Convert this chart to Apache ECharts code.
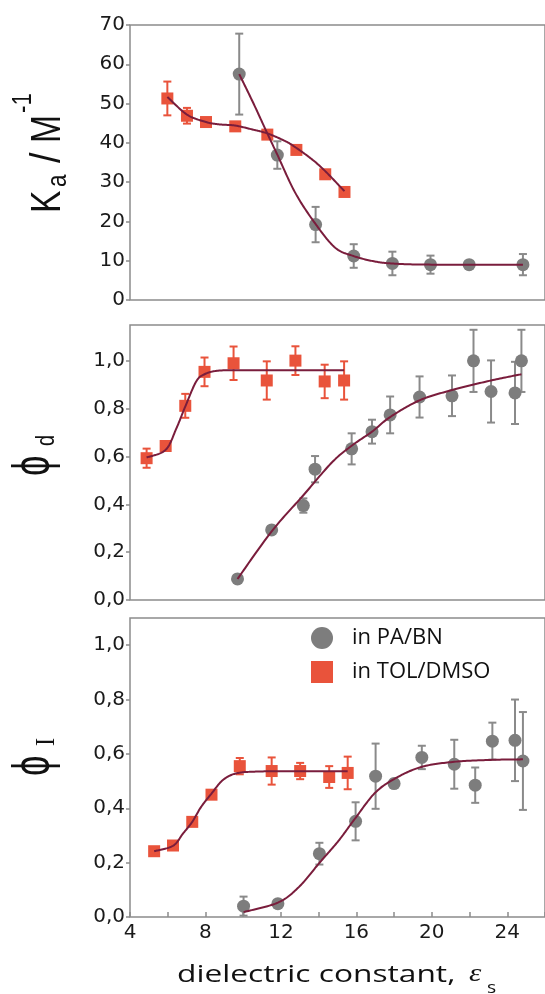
<!DOCTYPE html>
<html>
<head>
<meta charset="utf-8">
<script src="https://cdn.jsdelivr.net/npm/echarts@6/dist/echarts.min.js"></script>
<style>
html, body { margin: 0; padding: 0; background: #fff; }
#chart { width: 545px; height: 994px; }
</style>
</head>
<body>
<div id="chart"></div>
<script>
// ---- Association constant Ka (M^-1) vs dielectric constant ----
const kaPaX   = [9.79, 11.81, 13.84, 15.86, 17.91, 19.93, 21.98, 24.83];
const kaPaY   = [57.5, 36.9, 19.2, 11.2, 9.3, 9.0, 9.0, 9.0];
const kaPaErr = [10.3, 3.5, 4.5, 3.0, 3.0, 2.3, 0.5, 2.7];
const kaTolX   = [5.98, 7.02, 8.03, 9.58, 11.28, 12.82, 14.35, 15.37];
const kaTolY   = [51.3, 46.9, 45.3, 44.2, 42.1, 38.2, 32.0, 27.5];
const kaTolErr = [4.3, 2.0, 1.0, 1.0, 0.5, 0.5, 0.5, 0.5];
const kaPaFitX  = [9.79, 10.53, 11.28, 11.81, 12.77, 13.86, 14.88, 15.84, 16.98, 18.04, 20.0, 24.83];
const kaPaFitY  = [57.5, 50.2, 42.4, 37.0, 27.2, 19.2, 13.3, 11.2, 9.8, 9.25, 9.0, 9.0];
const kaTolFitX = [5.98, 7.02, 8.03, 8.74, 9.58, 10.49, 11.28, 12.25, 12.82, 13.65, 14.35, 15.37];
const kaTolFitY = [51.7, 47.2, 45.3, 44.7, 44.4, 43.4, 42.4, 40.4, 38.7, 35.8, 32.8, 27.7];

// ---- Quantum yield phi_d ----
const dPaX   = [9.70, 11.51, 13.19, 13.81, 15.75, 16.83, 17.79, 19.35, 21.07, 22.21, 23.14, 24.41, 24.75];
const dPaY   = [0.088, 0.293, 0.395, 0.547, 0.632, 0.704, 0.774, 0.849, 0.854, 1.0, 0.872, 0.866, 1.0];
const dPaErr = [0, 0.012, 0.03, 0.055, 0.065, 0.05, 0.077, 0.086, 0.085, 0.13, 0.13, 0.13, 0.13];
const dTolX   = [4.88, 5.89, 6.93, 7.95, 9.49, 11.25, 12.77, 14.32, 15.35];
const dTolY   = [0.593, 0.644, 0.812, 0.954, 0.990, 0.918, 1.001, 0.914, 0.918];
const dTolErr = [0.04, 0.01, 0.05, 0.06, 0.07, 0.08, 0.06, 0.07, 0.08];
const dPaFitX  = [9.70, 11.51, 13.19, 14.70, 15.75, 16.83, 17.79, 19.35, 21.07, 23.14, 24.75];
const dPaFitY  = [0.088, 0.287, 0.438, 0.575, 0.645, 0.704, 0.765, 0.835, 0.878, 0.918, 0.944];
const dTolFitX = [4.88, 5.89, 6.46, 6.93, 7.51, 7.95, 8.56, 9.49, 11.0, 13.0, 15.35];
const dTolFitY = [0.596, 0.628, 0.718, 0.809, 0.914, 0.944, 0.958, 0.961, 0.961, 0.961, 0.961];

// ---- Quantum yield phi_I ----
const iPaX   = [10.02, 11.84, 14.04, 15.96, 17.02, 18.0, 19.47, 21.19, 22.30, 23.21, 24.41, 24.83];
const iPaY   = [0.040, 0.049, 0.233, 0.352, 0.518, 0.491, 0.587, 0.562, 0.485, 0.647, 0.650, 0.574];
const iPaErr = [0.035, 0.01, 0.04, 0.07, 0.12, 0.015, 0.043, 0.09, 0.065, 0.068, 0.15, 0.18];
const iTolX   = [5.28, 6.28, 7.30, 8.32, 9.82, 11.51, 13.02, 14.56, 15.54];
const iTolY   = [0.242, 0.263, 0.350, 0.450, 0.555, 0.537, 0.537, 0.515, 0.530];
const iTolErr = [0.005, 0.005, 0.005, 0.005, 0.03, 0.05, 0.03, 0.04, 0.06];
const iPaFitX  = [10.02, 11.84, 12.95, 14.04, 15.05, 15.96, 16.98, 18.04, 19.44, 21.19, 23.12, 24.83];
const iPaFitY  = [0.018, 0.053, 0.110, 0.199, 0.280, 0.365, 0.456, 0.509, 0.552, 0.571, 0.578, 0.580];
const iTolFitX = [5.28, 6.28, 6.81, 7.30, 7.77, 8.32, 8.91, 9.61, 10.67, 12.5, 15.54];
const iTolFitY = [0.242, 0.262, 0.307, 0.350, 0.405, 0.454, 0.503, 0.528, 0.535, 0.536, 0.536];

const seriesNames = ['in PA/BN', 'in TOL/DMSO'];
const xTicks = { min: 4, max: 26, interval: 4 };

const GRAY = '#7d7d7d';
const GRAY_BAR = '#8a8a8a';
const RED = '#e9533b';
const FIT = '#7a1d3c';
const FRAME = '#8c8c8c';

const zip = (xs, ys) => xs.map((x, i) => [x, ys[i]]);

function errorBars(xs, ys, es, color, g) {
  return {
    type: 'custom', xAxisIndex: g, yAxisIndex: g, z: 2, silent: true,
    data: xs.map((x, i) => [x, ys[i] - es[i], ys[i] + es[i]]),
    encode: { x: 0, y: [1, 2] },
    renderItem: (params, api) => {
      const lo = api.coord([api.value(0), api.value(1)]);
      const hi = api.coord([api.value(0), api.value(2)]);
      const cap = 4;
      const style = { stroke: color, lineWidth: 2 };
      return {
        type: 'group',
        children: [
          { type: 'line', shape: { x1: lo[0], y1: lo[1], x2: hi[0], y2: hi[1] }, style },
          { type: 'line', shape: { x1: lo[0] - cap, y1: lo[1], x2: lo[0] + cap, y2: lo[1] }, style },
          { type: 'line', shape: { x1: hi[0] - cap, y1: hi[1], x2: hi[0] + cap, y2: hi[1] }, style }
        ]
      };
    }
  };
}

function markers(name, xs, ys, shape, color, size, g) {
  return {
    name, type: 'scatter', xAxisIndex: g, yAxisIndex: g, z: 3,
    symbol: shape, symbolSize: size,
    itemStyle: { color, opacity: 1 },
    data: zip(xs, ys)
  };
}

// Fitted curve: the read points are joined by a Catmull-Rom spline in pixel space
function fitCurve(xs, ys, g) {
  return {
    type: 'custom', xAxisIndex: g, yAxisIndex: g, z: 4, silent: true,
    data: zip(xs, ys),
    encode: { x: 0, y: 1 },
    renderItem: (params, api) => {
      if (params.dataIndex !== 0) return null;
      const p = xs.map((x, i) => api.coord([x, ys[i]]));
      const n = p.length;
      const out = [p[0]];
      for (let i = 0; i < n - 1; i++) {
        const p0 = p[Math.max(i - 1, 0)], p1 = p[i], p2 = p[i + 1], p3 = p[Math.min(i + 2, n - 1)];
        const c1 = [p1[0] + (p2[0] - p0[0]) / 6, p1[1] + (p2[1] - p0[1]) / 6];
        const c2 = [p2[0] - (p3[0] - p1[0]) / 6, p2[1] - (p3[1] - p1[1]) / 6];
        const steps = 20;
        for (let s = 1; s <= steps; s++) {
          const t = s / steps, u = 1 - t;
          out.push([
            u * u * u * p1[0] + 3 * u * u * t * c1[0] + 3 * u * t * t * c2[0] + t * t * t * p2[0],
            u * u * u * p1[1] + 3 * u * u * t * c1[1] + 3 * u * t * t * c2[1] + t * t * t * p2[1]
          ]);
        }
      }
      return {
        type: 'polyline',
        shape: { points: out },
        style: { fill: null, stroke: FIT, lineWidth: 2, lineJoin: 'round' }
      };
    }
  };
}

const grids = [
  { left: 130, right: -3, top: 25, height: 275 },
  { left: 130, right: -3, top: 325, height: 275 },
  { left: 130, right: -3, top: 618, height: 299 }
].map(g => Object.assign(g, { show: true, borderColor: FRAME, borderWidth: 1.5, backgroundColor: 'transparent' }));

const tickFont = { fontFamily: 'DejaVu Sans', fontSize: 20, color: '#1a1a1a' };

const xAxes = [0, 1, 2].map(g => ({
  type: 'value', gridIndex: g,
  min: xTicks.min, max: xTicks.max, interval: xTicks.interval,
  axisLine: { show: false },
  axisTick: { show: g === 2, inside: true, length: 5, lineStyle: { color: FRAME, width: 1.5 } },
  minorTick: { show: g === 2, splitNumber: 2, length: 5, lineStyle: { color: FRAME, width: 1.5 } },
  axisLabel: Object.assign({ show: g === 2, margin: 6, showMaxLabel: false }, tickFont),
  splitLine: { show: false }
}));

const commaFmt = v => v.toFixed(1).replace('.', ',');

const yAxes = [
  { min: 0, max: 70, interval: 10, fmt: v => String(v), showMax: true },
  { min: 0, max: 1.15, interval: 0.2, fmt: commaFmt, showMax: false },
  { min: 0, max: 1.1, interval: 0.2, fmt: commaFmt, showMax: false }
].map((a, g) => ({
  type: 'value', gridIndex: g, min: a.min, max: a.max, interval: a.interval,
  axisLine: { show: false },
  axisTick: { show: true, inside: false, length: 4, lineStyle: { color: FRAME, width: 1.5 } },
  axisLabel: Object.assign({ margin: 5, formatter: a.fmt, showMaxLabel: a.showMax }, tickFont),
  splitLine: { show: false }
}));

const series = [
  errorBars(kaPaX, kaPaY, kaPaErr, GRAY_BAR, 0),
  errorBars(kaTolX, kaTolY, kaTolErr, RED, 0),
  markers(seriesNames[0], kaPaX, kaPaY, 'circle', GRAY, 13, 0),
  markers(seriesNames[1], kaTolX, kaTolY, 'rect', RED, 12, 0),
  fitCurve(kaPaFitX, kaPaFitY, 0),
  fitCurve(kaTolFitX, kaTolFitY, 0),

  errorBars(dPaX, dPaY, dPaErr, GRAY_BAR, 1),
  errorBars(dTolX, dTolY, dTolErr, RED, 1),
  markers(seriesNames[0], dPaX, dPaY, 'circle', GRAY, 13, 1),
  markers(seriesNames[1], dTolX, dTolY, 'rect', RED, 12, 1),
  fitCurve(dPaFitX, dPaFitY, 1),
  fitCurve(dTolFitX, dTolFitY, 1),

  errorBars(iPaX, iPaY, iPaErr, GRAY_BAR, 2),
  errorBars(iTolX, iTolY, iTolErr, RED, 2),
  markers(seriesNames[0], iPaX, iPaY, 'circle', GRAY, 13, 2),
  markers(seriesNames[1], iTolX, iTolY, 'rect', RED, 12, 2),
  fitCurve(iPaFitX, iPaFitY, 2),
  fitCurve(iTolFitX, iTolFitY, 2)
];

// Rotated axis titles, built from separate text pieces for sub/superscripts
function piece(text, x, baseline, size, family, scaleX, extra) {
  return {
    type: 'text', x, y: baseline - 0.347 * size, scaleX,
    style: Object.assign({
      text, fontSize: size, fontFamily: family, fill: '#111',
      align: 'left', verticalAlign: 'middle'
    }, extra || {})
  };
}

const graphic = [
  {
    type: 'group', x: 63, y: 213, rotation: Math.PI / 2,
    children: [
      piece('K', 0, 0, 42, 'Liberation Sans', 0.8),
      piece('a', 26, 5, 28, 'Liberation Sans', 0.8),
      piece('/', 50, 0, 42, 'Liberation Sans', 0.9),
      piece('M', 70, 0, 42, 'Liberation Sans', 0.8),
      piece('-1', 100, -30, 28, 'Liberation Sans', 0.8)
    ]
  },
  {
    type: 'group', x: 53, y: 476, rotation: Math.PI / 2,
    children: [
      piece('\u03D5', 0, 0, 52, 'Liberation Sans', 0.7),
      piece('d', 30, 3, 25, 'Liberation Sans', 0.8)
    ]
  },
  {
    type: 'group', x: 53, y: 776, rotation: Math.PI / 2,
    children: [
      piece('\u03D5', 0, 0, 52, 'Liberation Sans', 0.7),
      piece('I', 30, 3, 27, 'Liberation Serif', 0.9)
    ]
  },
  {
    type: 'group', x: 177, y: 983,
    children: [
      piece('dielectric constant,', 0, 0, 24, 'Open Sans', 1.32),
      piece('\u03B5', 292, 0, 26, 'Liberation Serif', 1.2, { fontStyle: 'italic' }),
      piece('s', 310, 11, 16, 'Open Sans', 1.2)
    ]
  }
];

const chart = echarts.init(document.getElementById('chart'), null, { renderer: 'canvas' });
chart.setOption({
  animation: false,
  backgroundColor: '#fff',
  grid: grids,
  xAxis: xAxes,
  yAxis: yAxes,
  legend: {
    orient: 'vertical', left: 311, top: 627, padding: 0,
    itemWidth: 22, itemHeight: 22, itemGap: 12,
    selectedMode: false,
    textStyle: { fontFamily: 'Open Sans', fontSize: 22, color: '#111', padding: [0, 0, 0, 14] },
    data: [
      { name: seriesNames[0], icon: 'circle', itemStyle: { color: GRAY } },
      { name: seriesNames[1], icon: 'rect', itemStyle: { color: RED } }
    ]
  },
  graphic,
  series
});
</script>
</body>
</html>
